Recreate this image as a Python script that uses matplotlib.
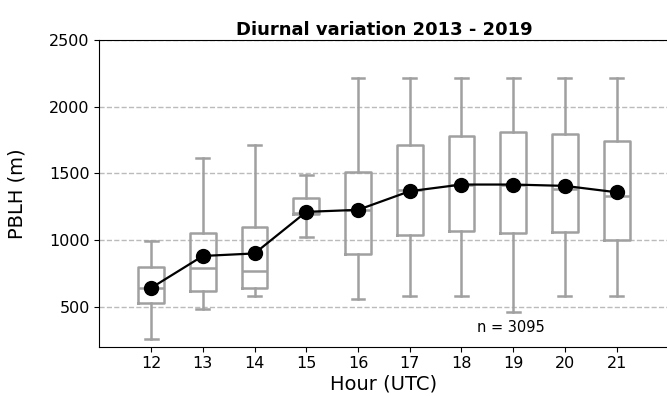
import matplotlib
matplotlib.use('Agg')
import matplotlib.pyplot as plt

# hourly PBLH statistics (m)
hours = [12, 13, 14, 15, 16, 17, 18, 19, 20, 21]
whislo = [260, 483, 582, 1024, 557, 582, 582, 458, 582, 582]
q1 = [528, 620, 640, 1196, 897, 1041, 1066, 1051, 1059, 999]
med = [640, 790, 767, 1201, 1226, 1376, 1413, 1416, 1381, 1333]
q3 = [797, 1054, 1096, 1313, 1513, 1710, 1777, 1810, 1797, 1745]
whishi = [989, 1618, 1710, 1488, 2216, 2216, 2216, 2216, 2216, 2216]
means = [640, 880, 899, 1211, 1226, 1366, 1416, 1416, 1406, 1358]
n_obs = 3095

stats = []
for i in range(len(hours)):
    stats.append({'whislo': whislo[i], 'q1': q1[i], 'med': med[i],
                  'q3': q3[i], 'whishi': whishi[i], 'fliers': []})

fig = plt.figure(figsize=(6.67, 3.97), dpi=100)
ax = fig.add_axes([0.149, 0.127, 0.853, 0.772])

gray = '#a0a0a0'
ax.bxp(stats, positions=hours, widths=0.5, showfliers=False,
       boxprops=dict(color=gray, linewidth=1.8),
       medianprops=dict(color=gray, linewidth=1.8),
       whiskerprops=dict(color=gray, linewidth=1.8),
       capprops=dict(color=gray, linewidth=1.8))

ax.plot(hours, means, color='black', linewidth=1.6, marker='o',
        markersize=10, zorder=5)

ax.text(18.95, 345, 'n = %d' % n_obs, ha='center', va='center', fontsize=10.5)

ax.set_xlim(11, 22)
ax.set_ylim(200, 2500)
ax.set_yticks([500, 1000, 1500, 2000, 2500])
ax.set_xticks(hours)
ax.set_xticklabels([str(h) for h in hours])
ax.yaxis.grid(True, linestyle='--', color='#bbbbbb', linewidth=1)
ax.set_axisbelow(True)
ax.tick_params(labelsize=11.5)
ax.set_xlabel('Hour (UTC)', fontsize=14, labelpad=2)
ax.set_ylabel('PBLH (m)', fontsize=14, labelpad=16)
ax.set_title('Diurnal variation 2013 - 2019', fontsize=13, fontweight='bold', pad=4)

fig.savefig('out.png', dpi=100)
